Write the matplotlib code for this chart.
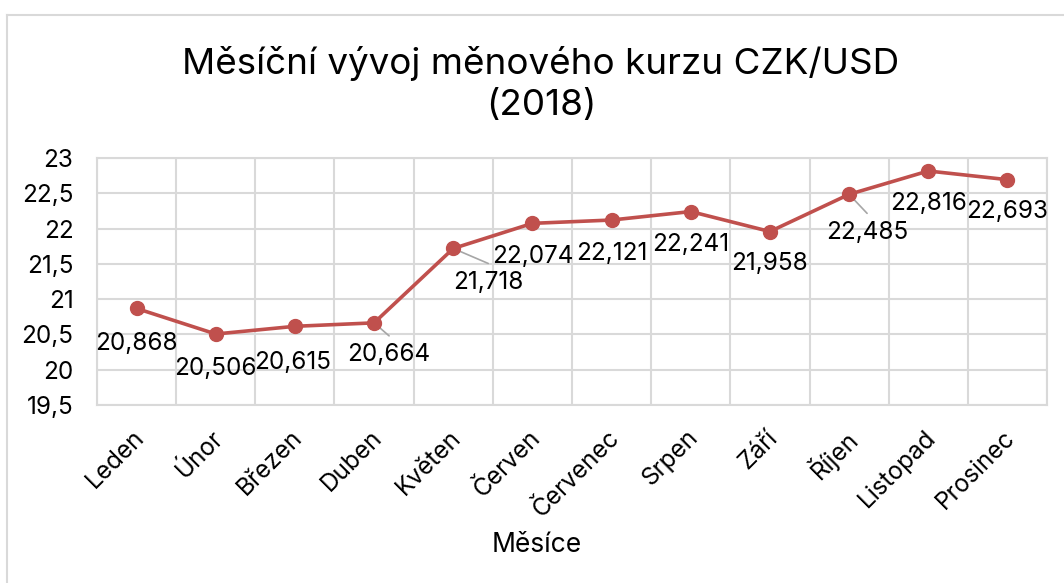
import matplotlib
matplotlib.use("Agg")
import matplotlib.pyplot as plt
import matplotlib.transforms as mtransforms
from matplotlib.lines import Line2D
import numpy as np

plt.rcParams['font.family'] = ['Inter', 'DejaVu Sans']

months = ["Leden", "Únor", "Březen", "Duben", "Květen", "Červen",
          "Červenec", "Srpen", "Září", "Říjen", "Listopad", "Prosinec"]
rates = [20.868, 20.506, 20.615, 20.664, 21.718, 22.074,
         22.121, 22.241, 21.958, 22.485, 22.816, 22.693]
yticks = [19.5, 20, 20.5, 21, 21.5, 22, 22.5, 23]

title = "Měsíční vývoj měnového kurzu CZK/USD\n(2018)"
xlabel = "Měsíce"

# label offsets in pixels (dx, dy downward) and whether leader line is drawn
label_offsets = [(0, 35), (0, 34), (-2, 36), (15, 32), (35, 34), (0, 33),
                 (0, 33), (0, 33), (0, 32), (18, 38), (0, 33), (0, 32)]
leaders = [False, False, False, True, True, False,
           False, False, False, True, False, False]

W, H = 1064, 583
fig = plt.figure(figsize=(W / 100, H / 100), dpi=100)
ax = fig.add_axes([97 / W, 1 - 405 / H, (1047 - 97) / W, (405 - 158) / H])

grid_c = "#d9d9d9"
red = "#C0504D"
fs = 17.5

x = np.arange(len(months))
ax.set_xlim(-0.5, len(months) - 0.5)
ax.set_ylim(19.5, 23)

# gridlines
for yv in yticks:
    ax.axhline(yv, color=grid_c, lw=1.5, zorder=0)
for xb in np.arange(-0.5, len(months), 1):
    ax.axvline(xb, color=grid_c, lw=1.5, zorder=0)
for s in ax.spines.values():
    s.set_color(grid_c)
    s.set_linewidth(1.5)

ax.plot(x, rates, color=red, lw=2.6, marker='o', markersize=10, zorder=3)

ax.set_yticks(yticks)
ax.set_yticklabels([f"{v:g}".replace('.', ',') for v in yticks], fontsize=fs)
ax.set_xticks(x)
ax.set_xticklabels(months, fontsize=fs, rotation=45, ha='right', va='center',
                   rotation_mode='anchor')
ax.tick_params(axis='both', length=0)
ax.tick_params(axis='y', pad=17)
ax.tick_params(axis='x', pad=21)
offset = mtransforms.ScaledTranslation(4 / 100, 0, fig.dpi_scale_trans)
for lbl in ax.get_xticklabels():
    lbl.set_transform(lbl.get_transform() + offset)

for i, (xi, yi) in enumerate(zip(x, rates)):
    dx, dy = label_offsets[i]
    txt = f"{yi:.3f}".replace('.', ',')
    ax.annotate(txt, (xi, yi), xytext=(dx, -dy), textcoords='offset pixels',
                ha='center', va='center', fontsize=fs, color='#000000', zorder=4)
    if leaders[i]:
        ax.annotate("", (xi, yi), xytext=(dx, -dy + 19), textcoords='offset pixels',
                    arrowprops=dict(arrowstyle='-', color='#a6a6a6', lw=1.2,
                                    shrinkA=0, shrinkB=0), zorder=2)

fig.text(541 / W, 1 - 84 / H, title, ha='center', va='center', fontsize=26.5,
         linespacing=1.28)
fig.text(537 / W, 1 - 545 / H, xlabel, ha='center', va='center', fontsize=19)

# chart area border (top and left visible)
fig.add_artist(Line2D([7 / W, 1.0], [1 - 15 / H, 1 - 15 / H], transform=fig.transFigure,
                      color="#d9d9d9", lw=1.5))
fig.add_artist(Line2D([7 / W, 7 / W], [0, 1 - 15 / H], transform=fig.transFigure,
                      color="#d9d9d9", lw=1.5))

fig.savefig("out.png", dpi=100, facecolor='white')
